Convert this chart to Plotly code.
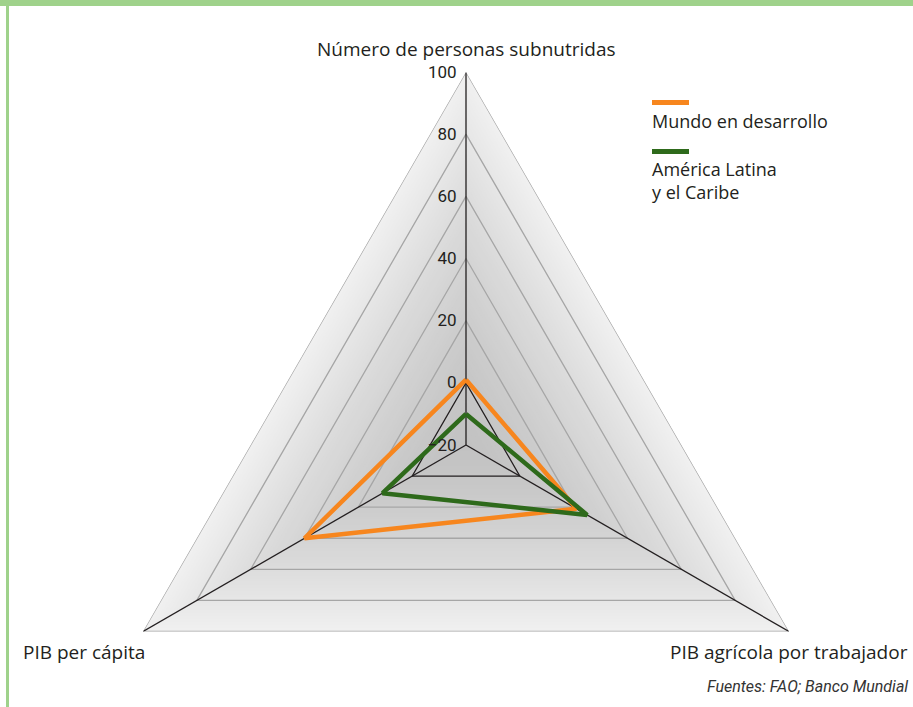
import plotly.graph_objects as go

# ---------------- data ----------------
categories = ["Número de personas subnutridas", "PIB agrícola por trabajador", "PIB per cápita"]
series_names = ["Mundo en desarrollo", "América Latina<br>y el Caribe"]
mundo_desarrollo = [1, 21, 40]
america_latina = [-10, 25, 11]
radial_ticks = [-20, 0, 20, 40, 60, 80, 100]
source_text = "Fuentes: FAO; Banco Mundial"

# ---------------- layout helpers (pixel -> paper) ----------------
W, H = 913, 818
CX, R, TOP = 466, 373, 72


def px(x):
    return x / W


def py(y):
    return 1 - y / H


FONT = "Open Sans"
TICKFONT = "Roboto"
TXT = "#231f20"
ORANGE = "#f7861e"
GREEN = "#2e6a1b"
BORDER = "#9fd28b"

theta_closed = categories + categories[:1]
rmin, rmax = radial_ticks[0], radial_ticks[-1]

fig = go.Figure()

# shaded background (nested triangles, lighter outside, darker inside)
for lv in range(rmax, rmin, -2):
    t = (rmax - lv) / (rmax - rmin)
    g = int(round(194 + 46 * (1 - t) ** 1.4))
    fig.add_trace(go.Scatterpolar(
        r=[lv] * 4, theta=theta_closed, mode="lines", fill="toself",
        fillcolor=f"rgb({g},{g},{g})", line=dict(width=0),
        hoverinfo="skip", showlegend=False))

# grid triangles
for lv in radial_ticks[1:]:
    fig.add_trace(go.Scatterpolar(
        r=[lv] * 4, theta=theta_closed, mode="lines",
        line=dict(color="#231f20" if lv == 0 else "#a6a6a6", width=1.2 if lv == 0 else 1.3),
        hoverinfo="skip", showlegend=False))

# spokes
for c in categories:
    fig.add_trace(go.Scatterpolar(
        r=[rmin, rmax], theta=[c, c], mode="lines",
        line=dict(color="#231f20", width=1.3), hoverinfo="skip", showlegend=False))

# data series
for name, vals, col in [(series_names[0], mundo_desarrollo, ORANGE),
                        (series_names[1], america_latina, GREEN)]:
    fig.add_trace(go.Scatterpolar(
        r=vals + vals[:1], theta=theta_closed, mode="lines",
        line=dict(color=col, width=4.5), name=name.replace("<br>", " "),
        showlegend=False))

fig.update_layout(
    width=W, height=H,
    margin=dict(l=0, r=0, t=0, b=0),
    paper_bgcolor="white",
    font=dict(family=FONT, size=18, color=TXT),
    polar=dict(
        domain=dict(x=[px(CX - R), px(CX + R)], y=[0, py(TOP)]),
        gridshape="linear",
        bgcolor="rgba(0,0,0,0)",
        radialaxis=dict(range=[rmin, rmax], tickvals=radial_ticks, angle=90,
                        tickangle=90, side="counterclockwise",
                        showline=False, showgrid=False,
                        ticks="outside", ticklen=3, tickcolor="rgba(0,0,0,0)",
                        tickfont=dict(family=TICKFONT, size=17, color=TXT)),
        angularaxis=dict(categoryorder="array", categoryarray=categories,
                         rotation=90, direction="clockwise",
                         showline=False, showgrid=False, ticks="",
                         showticklabels=False),
    ),
)

CAT_FONT = dict(family=FONT, size=19, color=TXT)
LEG_FONT = dict(family=FONT, size=18, color=TXT)
annotations = [
    dict(text=categories[0], x=px(466), y=py(49), xanchor="center", yanchor="middle", font=CAT_FONT),
    dict(text=categories[2], x=px(147), y=py(652), xanchor="right", yanchor="middle", font=CAT_FONT),
    dict(text=categories[1], x=px(910), y=py(652), xanchor="right", yanchor="middle", font=CAT_FONT),
    dict(text=source_text, x=px(910), y=py(686), xanchor="right", yanchor="middle",
         font=dict(family=TICKFONT, size=16, color="#333", style="italic")),
    dict(text=series_names[0], x=px(650), y=py(121), xanchor="left", yanchor="middle", font=LEG_FONT),
    dict(text=series_names[1], x=px(650), y=py(180), xanchor="left", yanchor="middle",
         align="left", font=LEG_FONT),
]
for a in annotations:
    a.update(xref="paper", yref="paper", showarrow=False)
fig.update_layout(annotations=annotations)

shapes = [
    dict(type="rect", x0=0, x1=1, y0=py(6), y1=1, fillcolor=BORDER, line=dict(width=0)),
    dict(type="rect", x0=px(6), x1=px(9), y0=py(707), y1=1, fillcolor=BORDER, line=dict(width=0)),
    dict(type="rect", x0=px(652), x1=px(689), y0=py(105), y1=py(100), fillcolor=ORANGE, line=dict(width=0)),
    dict(type="rect", x0=px(652), x1=px(689), y0=py(154), y1=py(149), fillcolor=GREEN, line=dict(width=0)),
]
for s in shapes:
    s.update(xref="paper", yref="paper", layer="above")
fig.update_layout(shapes=shapes)

fig.write_html("out.html", config={"displayModeBar": False},
               post_script="document.body.style.margin='0';")
